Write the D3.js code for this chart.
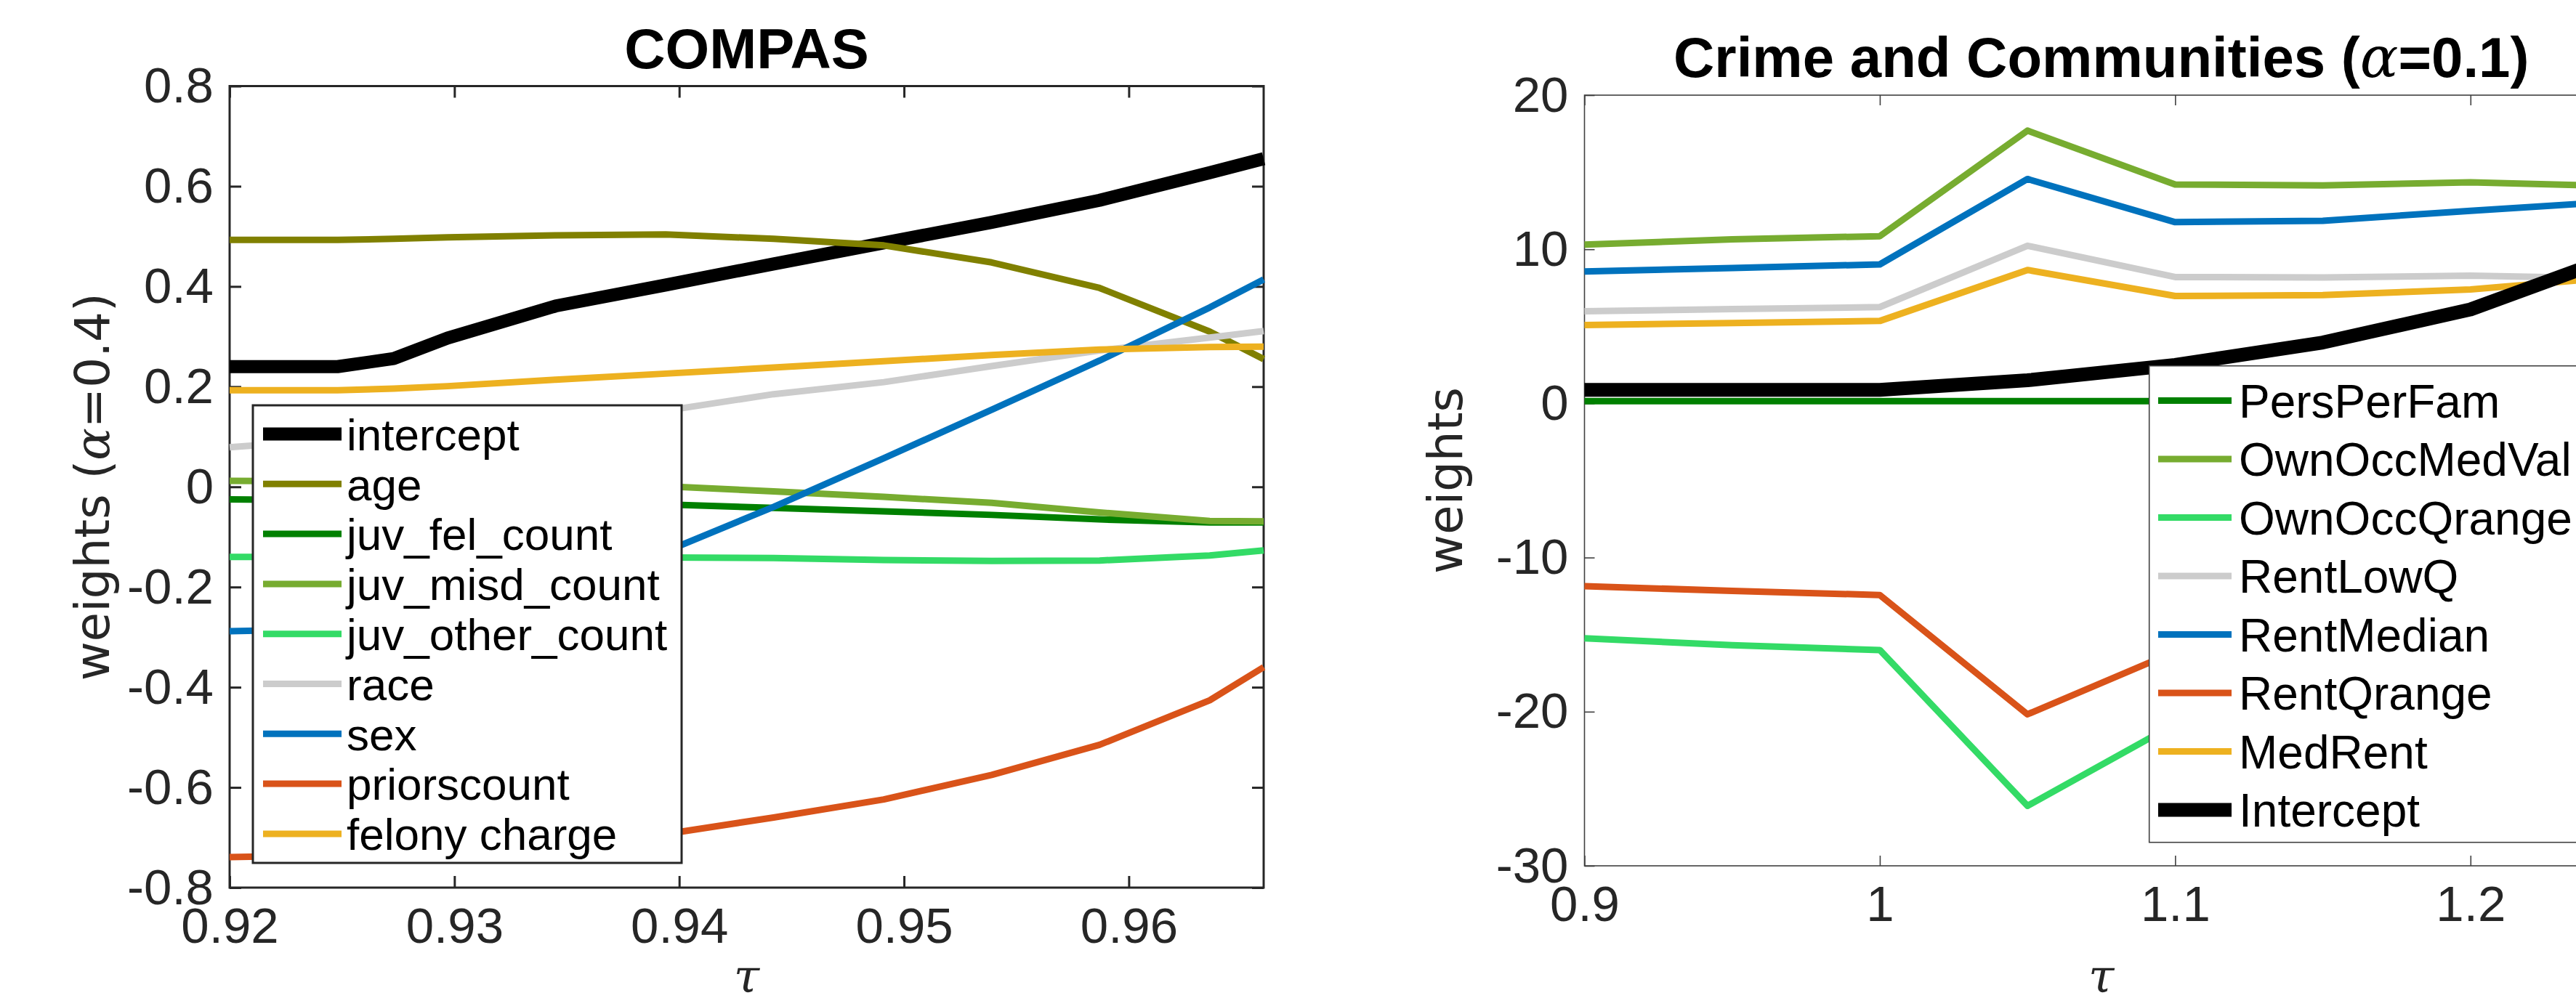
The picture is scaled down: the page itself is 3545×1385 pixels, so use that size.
<!DOCTYPE html>
<html>
<head>
<meta charset="utf-8">
<script src="https://cdn.jsdelivr.net/npm/d3@7"></script>
<style>
  html, body { margin: 0; padding: 0; background: #fff; }
  svg { display: block; }
  text { font-family: "Liberation Sans", Arial, sans-serif; }
</style>
</head>
<body>
<svg id="chart" width="3545" height="1385"></svg>
<script>
/*
 *  data
 */
const compasTau = [0.9200, 0.9248, 0.9273, 0.9297, 0.9345, 0.9394, 0.9442, 0.9491, 0.9539, 0.9587, 0.9636, 0.9660];
const compasNames = ['intercept', 'age', 'juv_fel_count', 'juv_misd_count', 'juv_other_count', 'race', 'sex', 'priorscount', 'felony charge'];
const compasIntercept = [0.240, 0.240, 0.256, 0.297, 0.361, 0.403, 0.445, 0.487, 0.528, 0.572, 0.627, 0.655];
const compasAge = [0.493, 0.493, 0.495, 0.498, 0.502, 0.504, 0.495, 0.482, 0.448, 0.397, 0.310, 0.255];
const compasJuvFel = [-0.025, -0.027, -0.028, -0.029, -0.031, -0.035, -0.042, -0.049, -0.056, -0.065, -0.071, -0.071];
const compasJuvMisd = [0.012, 0.011, 0.010, 0.008, 0.005, 0.001, -0.009, -0.020, -0.032, -0.051, -0.068, -0.069];
const compasJuvOther = [-0.140, -0.140, -0.140, -0.140, -0.140, -0.141, -0.142, -0.146, -0.148, -0.147, -0.137, -0.127];
const compasRace = [0.079, 0.095, 0.104, 0.113, 0.132, 0.152, 0.185, 0.209, 0.241, 0.272, 0.298, 0.311];
const compasSex = [-0.288, -0.284, -0.275, -0.260, -0.215, -0.129, -0.040, 0.057, 0.154, 0.252, 0.358, 0.414];
const compasPriors = [-0.739, -0.735, -0.731, -0.726, -0.715, -0.693, -0.660, -0.624, -0.575, -0.515, -0.426, -0.360];
const compasFelony = [0.193, 0.193, 0.196, 0.201, 0.214, 0.226, 0.238, 0.251, 0.263, 0.274, 0.279, 0.280];
const compasXTicks = [0.92, 0.93, 0.94, 0.95, 0.96];
const compasYTicks = [-0.8, -0.6, -0.4, -0.2, 0, 0.2, 0.4, 0.6, 0.8];

const crimeTau = [0.90, 0.95, 1.00, 1.05, 1.10, 1.15, 1.20, 1.25];
const crimeNames = ['PersPerFam', 'OwnOccMedVal', 'OwnOccQrange', 'RentLowQ', 'RentMedian', 'RentQrange', 'MedRent', 'Intercept'];
const crimePersPerFam = [0.15, 0.15, 0.15, 0.15, 0.15, 0.15, 0.15, 0.15];
const crimeOwnOccMedVal = [10.30, 10.65, 10.85, 17.70, 14.20, 14.15, 14.35, 14.10];
const crimeOwnOccQrange = [-15.24, -15.69, -16.00, -26.11, -20.80, -20.60, -20.30, -20.00];
const crimeRentLowQ = [5.98, 6.12, 6.25, 10.23, 8.20, 8.17, 8.29, 8.10];
const crimeRentMedian = [8.56, 8.78, 9.02, 14.56, 11.76, 11.85, 12.50, 13.10];
const crimeRentQrange = [-11.86, -12.16, -12.43, -20.17, -16.10, -16.00, -15.80, -15.60];
const crimeMedRent = [5.08, 5.22, 5.35, 8.66, 6.97, 7.03, 7.39, 8.20];
const crimeIntercept = [0.88, 0.88, 0.88, 1.50, 2.50, 3.95, 6.10, 9.60];
const crimeXTicks = [0.9, 1.0, 1.1, 1.2];
const crimeYTicks = [-30, -20, -10, 0, 10, 20];

/*
 *  styles
 */
const compasColors = ['#000000', '#808000', '#008000', '#77AC30', '#33DB66', '#CCCCCC', '#0072BD', '#D95319', '#EDB120'];
const compasWidths = [18, 9, 9, 9, 9, 9, 9, 9, 9];
const crimeColors = ['#008000', '#77AC30', '#33DB66', '#CCCCCC', '#0072BD', '#D95319', '#EDB120', '#000000'];
const crimeWidths = [9, 9, 9, 9, 9, 9, 9, 19];

var svg = d3.select('#chart');

function drawPanel(opt) {
	var x = d3.scaleLinear().domain(opt.xDomain).range([opt.left, opt.right]);
	var y = d3.scaleLinear().domain(opt.yDomain).range([opt.bottom, opt.top]);
	var g = svg.append('g');

	// box
	g.append('rect')
		.attr('x', opt.left)
		.attr('y', opt.top)
		.attr('width', opt.right - opt.left)
		.attr('height', opt.bottom - opt.top)
		.attr('fill', 'none')
		.attr('stroke', opt.axisColor)
		.attr('stroke-width', opt.axisWidth);

	var fmt = opt.fmt;
	var bottomAxis = d3.axisBottom(x).tickValues(opt.xTicks).tickFormat(fmt)
		.tickSizeInner(-opt.tick).tickSizeOuter(0).tickPadding(27);
	var topAxis = d3.axisTop(x).tickValues(opt.xTicks).tickFormat('')
		.tickSizeInner(-opt.tick).tickSizeOuter(0);
	var leftAxis = d3.axisLeft(y).tickValues(opt.yTicks).tickFormat(fmt)
		.tickSizeInner(-opt.tick).tickSizeOuter(0).tickPadding(22);
	var rightAxis = d3.axisRight(y).tickValues(opt.yTicks).tickFormat('')
		.tickSizeInner(-opt.tick).tickSizeOuter(0);

	function styleAxis(sel) {
		sel.select('.domain').remove();
		sel.selectAll('line').attr('stroke', opt.axisColor).attr('stroke-width', opt.axisWidth);
		sel.selectAll('text')
			.attr('fill', '#262626')
			.style('font-family', '"Liberation Sans", Arial, sans-serif')
			.style('font-size', '69px');
	}

	g.append('g').attr('transform', 'translate(0,' + opt.bottom + ')').call(bottomAxis).call(styleAxis);
	g.append('g').attr('transform', 'translate(0,' + opt.top + ')').call(topAxis).call(styleAxis);
	g.append('g').attr('transform', 'translate(' + opt.left + ',0)').call(leftAxis).call(styleAxis);
	g.append('g').attr('transform', 'translate(' + opt.right + ',0)').call(rightAxis).call(styleAxis);

	// lines
	var line = d3.line()
		.x(function (d) { return x(d[0]); })
		.y(function (d) { return y(d[1]); });

	opt.series.forEach(function (vals, i) {
		var pts = opt.tau.map(function (t, j) { return [t, vals[j]]; });
		g.append('path')
			.datum(pts)
			.attr('d', line)
			.attr('fill', 'none')
			.attr('stroke', opt.colors[i])
			.attr('stroke-width', opt.widths[i])
			.attr('stroke-linejoin', 'round');
	});

	// legend
	var lg = opt.legend;
	g.append('rect')
		.attr('x', lg.x).attr('y', lg.y)
		.attr('width', lg.w).attr('height', lg.h)
		.attr('fill', '#fff')
		.attr('stroke', opt.axisColor)
		.attr('stroke-width', opt.axisWidth);

	opt.names.forEach(function (name, i) {
		var yy = lg.first + i * lg.step;
		g.append('line')
			.attr('x1', lg.x1).attr('x2', lg.x2)
			.attr('y1', yy).attr('y2', yy)
			.attr('stroke', opt.colors[i])
			.attr('stroke-width', opt.widths[i]);
		g.append('text')
			.attr('x', lg.tx).attr('y', yy)
			.attr('dy', '0.36em')
			.style('font-size', lg.size + 'px')
			.attr('fill', '#000')
			.text(name);
	});

	// title
	var title = g.append('text')
		.attr('x', (opt.left + opt.right) / 2)
		.attr('y', opt.top - 25)
		.attr('text-anchor', 'middle')
		.style('font-size', '78px')
		.style('font-weight', 'bold')
		.attr('fill', '#000');
	title.append('tspan').text(opt.title[0]);
	if (opt.title.length > 1) {
		title.append('tspan').style('font-family', '"DejaVu Serif", serif').style('font-style', 'italic').style('font-weight', 'normal').text('\u03b1');
		title.append('tspan').text(opt.title[1]);
	}

	// y label
	var ylab = g.append('text')
		.attr('transform', 'translate(' + opt.ylabX + ',' + (opt.top + opt.bottom) / 2 + ') rotate(-90)')
		.attr('text-anchor', 'middle')
		.style('font-family', '"DejaVu Sans", sans-serif')
		.style('font-size', '66px')
		.attr('fill', '#262626');
	ylab.append('tspan').text(opt.ylab[0]);
	if (opt.ylab.length > 1) {
		ylab.append('tspan').style('font-family', '"DejaVu Serif", serif').style('font-style', 'italic').text('\u03b1');
		ylab.append('tspan').text(opt.ylab[1]);
	}

	// x label
	g.append('text')
		.attr('x', (opt.left + opt.right) / 2)
		.attr('y', 1366)
		.attr('text-anchor', 'middle')
		.style('font-family', '"DejaVu Serif", serif')
		.style('font-style', 'italic')
		.style('font-size', '64px')
		.attr('fill', '#262626')
		.text('\u03c4');
}

function fmtNum(d) {
	return d === 0 ? '0' : String(+d.toFixed(2));
}

drawPanel({
	left: 316, right: 1739, top: 118.5, bottom: 1222,
	xDomain: [0.92, 0.966], yDomain: [-0.8, 0.8],
	xTicks: compasXTicks, yTicks: compasYTicks, fmt: fmtNum,
	tick: 16, axisColor: '#262626', axisWidth: 3,
	tau: compasTau,
	series: [compasIntercept, compasAge, compasJuvFel, compasJuvMisd, compasJuvOther, compasRace, compasSex, compasPriors, compasFelony],
	names: compasNames, colors: compasColors, widths: compasWidths,
	legend: { x: 348, y: 558, w: 590, h: 630, first: 597.5, step: 68.8, x1: 362, x2: 470, tx: 477, size: 62 },
	title: ['COMPAS'],
	ylab: ['weights (', '=0.4)'], ylabX: 150
});

drawPanel({
	left: 2180.5, right: 3603, top: 131, bottom: 1192,
	xDomain: [0.9, 1.25], yDomain: [-30, 20],
	xTicks: crimeXTicks, yTicks: crimeYTicks, fmt: fmtNum,
	tick: 14, axisColor: '#404040', axisWidth: 1.6,
	tau: crimeTau,
	series: [crimePersPerFam, crimeOwnOccMedVal, crimeOwnOccQrange, crimeRentLowQ, crimeRentMedian, crimeRentQrange, crimeMedRent, crimeIntercept],
	names: crimeNames, colors: crimeColors, widths: crimeWidths,
	legend: { x: 2957.7, y: 503.7, w: 700, h: 656, first: 551.6, step: 80.5, x1: 2970, x2: 3071, tx: 3081, size: 64 },
	title: ['Crime and Communities (', '=0.1)'],
	ylab: ['weights'], ylabX: 2012
});
</script>
</body>
</html>
